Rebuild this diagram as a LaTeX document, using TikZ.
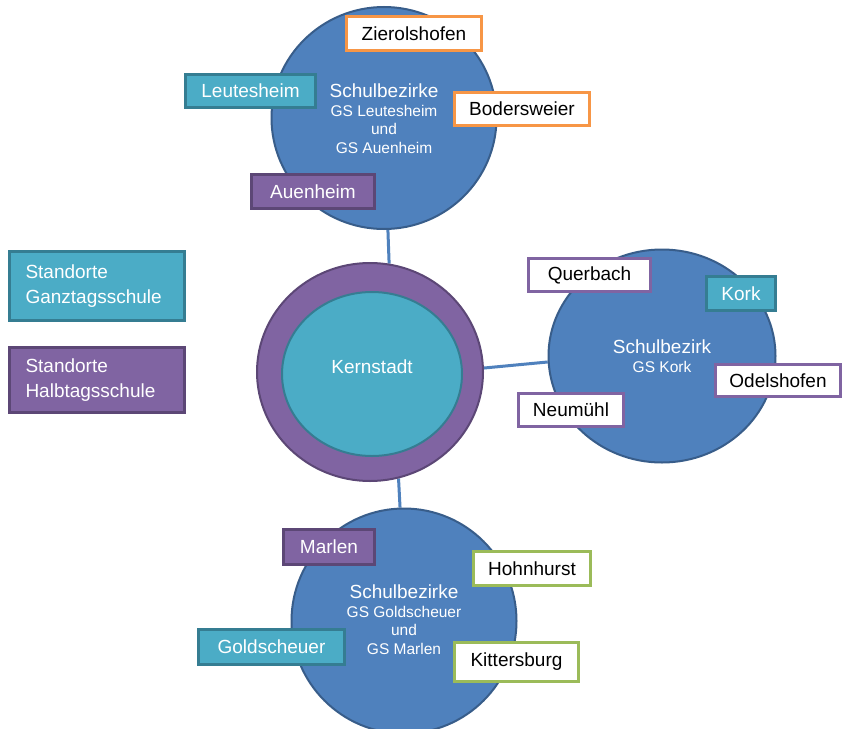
\documentclass[tikz,border=0pt]{standalone}
\usepackage{fontspec}
\setmainfont{Liberation Sans}
\usetikzlibrary{shapes.geometric,backgrounds}
\definecolor{cblue}{HTML}{4F81BD}
\definecolor{cblued}{HTML}{385D8A}
\definecolor{cteal}{HTML}{4BACC6}
\definecolor{cteald}{HTML}{357D92}
\definecolor{cpurple}{HTML}{8064A2}
\definecolor{cpurpled}{HTML}{5C4776}
\definecolor{corange}{HTML}{F79646}
\definecolor{cgreen}{HTML}{9BBB59}
\tikzset{
  district/.style={ellipse, draw=cblued, fill=cblue, line width=2pt, inner sep=0pt},
  conn/.style={draw=cblue, line width=3pt},
  ctext/.style={text=white, align=center, inner sep=0pt, font=\fontsize{15.5}{18.5}\selectfont},
  boxbase/.style={rectangle, line width=3pt, inner sep=0pt, font=\fontsize{19}{25}\selectfont},
  orangebox/.style={boxbase, draw=corange, fill=white, text=black},
  purplewbox/.style={boxbase, draw=cpurple, fill=white, text=black},
  greenbox/.style={boxbase, draw=cgreen, fill=white, text=black},
  tealbox/.style={boxbase, draw=cteald, fill=cteal, text=white},
  purplebox/.style={boxbase, draw=cpurpled, fill=cpurple, text=white},
  legend/.style={minimum width=175pt, text width=143pt, align=left, inner xsep=16pt},
}
\newcommand{\bigline}{\fontsize{19}{18.5}\selectfont}
\begin{document}
\begin{tikzpicture}[x=1pt,y=-1pt]
\useasboundingbox (0,0) rectangle (843,728);

% circles
\node[district, minimum width=225pt, minimum height=222pt] (top) at (384,118) {};
\node[district, minimum width=227pt, minimum height=213pt] (kork) at (662,356) {};
\node[district, minimum width=225pt, minimum height=225pt] (bot) at (404,621) {};
\node[ellipse, draw=cpurpled, fill=cpurple, line width=2pt, minimum width=226pt, minimum height=218pt, inner sep=0pt] (kern) at (370,372) {};
\node[ellipse, draw=cteald, fill=cteal, line width=2pt, minimum width=180pt, minimum height=164pt, inner sep=0pt] (kerni) at (372,374) {};
\node[text=white, font=\fontsize{19}{23}\selectfont] (kerntext) at (372,367) {Kernstadt};

% circle texts
\node[ctext, anchor=north] (toptext) at (384,84) {{\bigline Schulbezirke}\\GS Leutesheim\\und\\GS Auenheim};
\node[ctext, anchor=north] (korktext) at (662,340) {{\bigline Schulbezirk}\\GS Kork};
\node[ctext, anchor=north] (bottext) at (404,585) {{\bigline Schulbezirke}\\GS Goldscheuer\\und\\GS Marlen};

% boxes top
\node[orangebox, minimum width=135pt, minimum height=34pt] (zier) at (414,33.5) {Zierolshofen};
\node[tealbox, minimum width=130pt, minimum height=33pt] (leut) at (250.5,91) {Leutesheim};
\node[orangebox, minimum width=135pt, minimum height=33pt] (boder) at (522,109) {Bodersweier};
\node[purplebox, minimum width=123pt, minimum height=34pt] (auen) at (313,191.5) {Auenheim};

% boxes right
\node[purplewbox, minimum width=122pt, minimum height=33pt] (quer) at (589.5,275) {Querbach};
\node[tealbox, minimum width=69pt, minimum height=34pt] (korkbox) at (741,293.5) {Kork};
\node[purplewbox, minimum width=125pt, minimum height=32pt] (odel) at (778,380.5) {Odelshofen};
\node[purplewbox, minimum width=105pt, minimum height=33pt] (neum) at (571,410) {Neumühl};

% boxes bottom
\node[purplebox, minimum width=91pt, minimum height=35pt] (marlen) at (329,547) {Marlen};
\node[greenbox, minimum width=117pt, minimum height=34pt] (hohn) at (532,568.5) {Hohnhurst};
\node[tealbox, minimum width=146pt, minimum height=35pt] (gold) at (271.5,647) {Goldscheuer};
\node[greenbox, minimum width=124pt, minimum height=39pt] (kitt) at (516.5,661.5) {Kittersburg};

% legend
\node[tealbox, legend, minimum height=69pt] (leg1) at (97,286) {Standorte\\Ganztagsschule};
\node[purplebox, legend, minimum height=65pt] (leg2) at (97,380) {Standorte\\Halbtagsschule};

\begin{scope}[on background layer]
\fill[white] (0,0) rectangle (843,728);
\draw[conn] (top.-88) -- (kern.80);
\draw[conn] (kern.2) -- (kork.183);
\draw[conn] (kern.-75) -- (bot.92);
\end{scope}
\end{tikzpicture}
\end{document}
